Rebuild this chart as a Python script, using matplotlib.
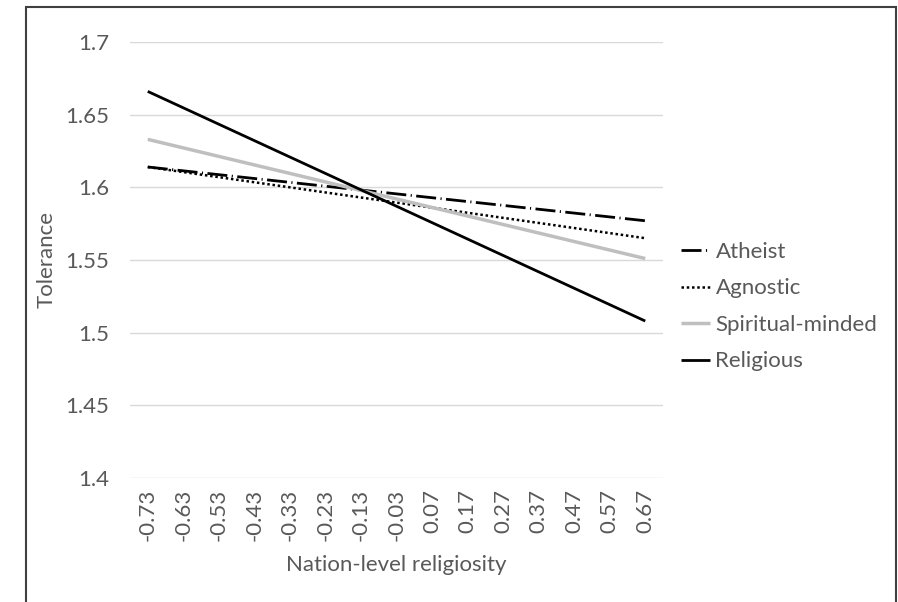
import matplotlib
matplotlib.use("Agg")
import matplotlib.pyplot as plt
from matplotlib.patches import Rectangle
import numpy as np

# ---- data ----
x_labels = ["-0.73", "-0.63", "-0.53", "-0.43", "-0.33", "-0.23", "-0.13",
            "-0.03", "0.07", "0.17", "0.27", "0.37", "0.47", "0.57", "0.67"]
x_ends = [-0.73, 0.67]
atheist = [1.614, 1.577]
agnostic = [1.614, 1.565]
spiritual = [1.633, 1.551]
religious = [1.666, 1.508]
series_names = ["Atheist", "Agnostic", "Spiritual-minded", "Religious"]
y_ticks = [1.4, 1.45, 1.5, 1.55, 1.6, 1.65, 1.7]
y_tick_labels = ["1.4", "1.45", "1.5", "1.55", "1.6", "1.65", "1.7"]

plt.rcParams['font.family'] = ['Lato', 'DejaVu Sans']
TXT = "#595959"
FS = 16

W, H = 898, 602
fig = plt.figure(figsize=(W / 100, H / 100), dpi=100)
fig.patches.append(Rectangle((26 / W, -0.05), (896 - 26) / W, 1.05 - 7 / H,
                             transform=fig.transFigure, fill=False,
                             edgecolor="#404040", linewidth=1.5))

ax = fig.add_axes([130 / W, 1 - 478 / H, 533 / W, 436 / H])
xt = [float(s) for s in x_labels]
ax.set_xlim(xt[0] - 0.05, xt[-1] + 0.05)
ax.set_ylim(1.4, 1.7)

ax.plot(x_ends, atheist, color="black", lw=2.0, linestyle=(0, (7.2, 1.6, 0.4, 1.6)),
        label=series_names[0], solid_capstyle="butt", dash_capstyle="butt")
ax.plot(x_ends, agnostic, color="black", lw=1.8, linestyle=(0, (1, 1.1)),
        label=series_names[1])
ax.plot(x_ends, spiritual, color="#BFBFBF", lw=2.5, label=series_names[2],
        solid_capstyle="butt")
ax.plot(x_ends, religious, color="black", lw=2.0, label=series_names[3],
        solid_capstyle="butt")

ax.set_yticks(y_ticks)
ax.set_yticklabels(y_tick_labels)
ax.set_xticks(xt)
ax.set_xticklabels(x_labels, rotation=90)
ax.tick_params(axis="both", length=0, labelsize=FS, colors=TXT)
ax.tick_params(axis="y", pad=15)
ax.tick_params(axis="x", pad=8)
ax.grid(axis="y", color="#D9D9D9", lw=1)
ax.set_axisbelow(True)
for s in ax.spines.values():
    s.set_visible(False)

ax.set_ylabel("Tolerance", fontsize=FS, color=TXT, labelpad=6)
ax.set_xlabel("Nation-level religiosity", fontsize=FS, color=TXT, labelpad=10)

leg = ax.legend(loc="upper left", bbox_to_anchor=(681 / W, 1 - 242 / H),
                bbox_transform=fig.transFigure, frameon=False, fontsize=FS,
                handlelength=1.3, handletextpad=0.25, labelspacing=0.74,
                borderaxespad=0, borderpad=0)
for t in leg.get_texts():
    t.set_color(TXT)

fig.savefig("out.png", dpi=100)
